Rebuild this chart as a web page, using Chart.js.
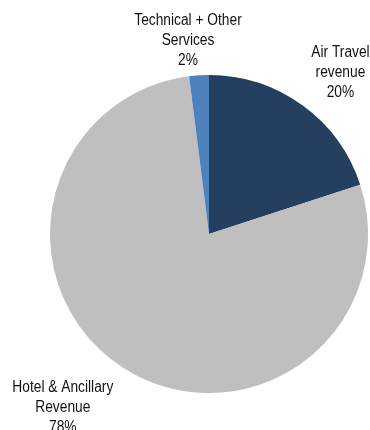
<!DOCTYPE html>
<html>
<head>
<meta charset="utf-8">
<script src="https://cdn.jsdelivr.net/npm/chart.js@4"></script>
<style>
  html, body { margin: 0; padding: 0; background: #ffffff; }
  #wrap { width: 370px; height: 430px; position: relative; }
</style>
</head>
<body>
<div id="wrap"><canvas id="chart"></canvas></div>
<script>
// Revenue mix (share of total, %)
const categories = ['Air Travel revenue', 'Hotel & Ancillary Revenue', 'Technical + Other Services'];
const labelLines = [
  ['Air Travel', 'revenue'],
  ['Hotel & Ancillary', 'Revenue'],
  ['Technical + Other', 'Services']
];
const shares = [20, 78, 2];

const sliceColors = ['#243F60', '#BFBFBF', '#4F81BD'];
// Label placement relative to the outer midpoint of each slice
const labelOffsets = [[38, -33], [-61, 39], [-11, -35]];

// Draws a condensed text line (narrow sans look)
function drawCondensed(ctx, text, x, y, squeeze) {
  ctx.save();
  ctx.translate(x, y);
  ctx.scale(squeeze, 1);
  ctx.fillText(text, 0, 0);
  ctx.restore();
}

const outsideLabels = {
  id: 'outsideLabels',
  afterDatasetsDraw(chart) {
    const ctx = chart.ctx;
    const meta = chart.getDatasetMeta(0);
    ctx.save();
    ctx.font = '16px "Liberation Sans", Arial, sans-serif';
    ctx.fillStyle = '#111111';
    ctx.textAlign = 'center';
    ctx.textBaseline = 'middle';
    const lineH = 20;
    meta.data.forEach((arc, i) => {
      const p = arc.getProps(['x', 'y', 'startAngle', 'endAngle', 'outerRadius'], true);
      const mid = (p.startAngle + p.endAngle) / 2;
      const ox = p.x + Math.cos(mid) * p.outerRadius;
      const oy = p.y + Math.sin(mid) * p.outerRadius;
      const cx = ox + labelOffsets[i][0];
      const cy = oy + labelOffsets[i][1];
      const lines = labelLines[i].concat([shares[i] + '%']);
      const top = cy - (lines.length - 1) * lineH / 2;
      lines.forEach((t, k) => drawCondensed(ctx, t, cx, top + k * lineH, 0.86));
    });
    ctx.restore();
  }
};

new Chart(document.getElementById('chart'), {
  type: 'pie',
  data: {
    labels: categories,
    datasets: [{
      data: shares,
      backgroundColor: sliceColors,
      borderWidth: 0
    }]
  },
  options: {
    responsive: true,
    maintainAspectRatio: false,
    animation: false,
    layout: { padding: { left: 50, right: 2, top: 75, bottom: 37 } },
    plugins: {
      legend: { display: false },
      tooltip: { enabled: false }
    }
  },
  plugins: [outsideLabels]
});
</script>
</body>
</html>
